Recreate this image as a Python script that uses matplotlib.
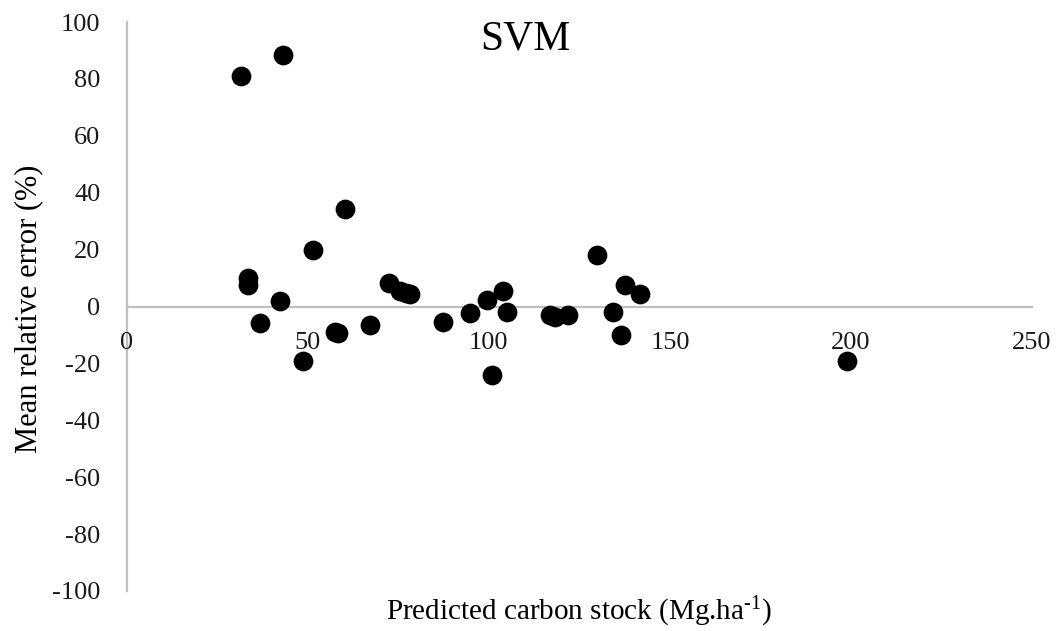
import matplotlib.pyplot as plt

# predicted carbon stock (Mg/ha) and mean relative error (%)
pred_stock = [31.7, 43.2, 60.3, 51.5, 33.4, 33.4, 42.4, 36.8, 48.6, 57.5,
              58.4, 67.2, 72.5, 75.5, 77.0, 78.2, 87.4, 94.8, 99.4, 101.0,
              103.8, 105.1, 116.9, 118.3, 121.9, 129.8, 134.3, 136.4, 137.6,
              141.7, 198.8]
rel_error = [81.0, 88.4, 34.3, 19.7, 10.0, 7.6, 1.8, -5.8, -19.3, -8.8,
             -9.4, -6.4, 8.2, 5.3, 4.8, 4.5, -5.3, -2.3, 2.4, -24.0,
             5.6, -1.8, -2.9, -3.7, -2.9, 18.2, -1.8, -9.9, 7.6,
             4.5, -19.3]
x_ticks = [0, 50, 100, 150, 200, 250]
y_ticks = [-100, -80, -60, -40, -20, 0, 20, 40, 60, 80, 100]

plt.rcParams['font.family'] = ['Liberation Serif', 'DejaVu Serif']
plt.rcParams['axes.unicode_minus'] = False
plt.rcParams['mathtext.fontset'] = 'custom'
plt.rcParams['mathtext.rm'] = 'Liberation Serif'
plt.rcParams['mathtext.it'] = 'Liberation Serif:italic'

fig = plt.figure(figsize=(10.59, 6.31), dpi=100)
ax = fig.add_axes([0.1196, 0.0634, 0.855, 0.9017])

ax.scatter(pred_stock, rel_error, s=175, color='black', zorder=3)

ax.set_xlim(0, 250)
ax.set_ylim(-100, 100)
ax.set_xticks(x_ticks)
ax.set_yticks(y_ticks)

# axis line through zero, labels stay under it
ax.spines['bottom'].set_position(('data', 0))
ax.spines['top'].set_visible(False)
ax.spines['right'].set_visible(False)
for side in ['left', 'bottom']:
    ax.spines[side].set_color('#bfbfbf')
    ax.spines[side].set_linewidth(1.6)
    ax.spines[side].set_zorder(1)

ax.tick_params(axis='both', length=0, labelsize=19, labelcolor='#1a1a1a')
ax.tick_params(axis='x', pad=18)
ax.tick_params(axis='y', pad=19)

ax.text(0.44, 0.97, 'SVM', transform=ax.transAxes, fontsize=30,
        ha='center', va='center')

fig.text(0.547, 0.03, r'Predicted carbon stock (Mg.ha$^{\text{-1}}$)',
         fontsize=21, ha='center', va='center')
fig.text(0.027, 0.51, 'Mean relative error (%)', fontsize=22,
         ha='center', va='center', rotation=90)

fig.savefig('out.png', dpi=100)
